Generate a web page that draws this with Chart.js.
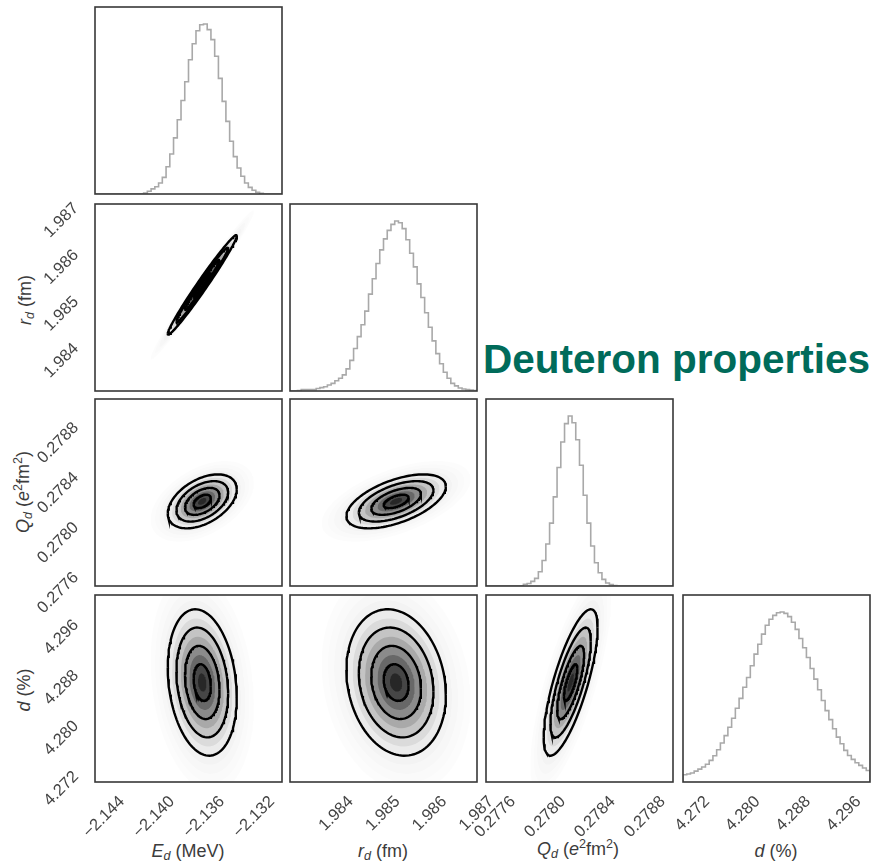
<!DOCTYPE html>
<html>
<head>
<meta charset="utf-8">
<script src="https://cdn.jsdelivr.net/npm/chart.js@4.4.0/dist/chart.umd.min.js"></script>
<style>
  body { margin: 0; background: #fff; }
  #corner { position: relative; width: 874px; height: 864px; overflow: hidden; font-family: 'Liberation Sans', Arial, sans-serif; }
  #corner canvas { position: absolute; }
  .lab { position: absolute; font-size: 18px; color: #3c3c3c; white-space: nowrap; transform: translate(-50%, -50%); }
  .lab.vert { transform: translate(-50%, -50%) rotate(-90deg); }
  .lab sub { font-size: 70%; vertical-align: -0.25em; line-height: 0; }
  .lab sup { font-size: 70%; vertical-align: 0.55em; line-height: 0; }
  #title { position: absolute; left: 483px; top: 339px; font-weight: bold; font-size: 40.5px; line-height: 1; color: #006b5a; white-space: nowrap; }
</style>
</head>
<body>
<div id="corner">
  <div id="title">Deuteron properties</div>
  <div class="lab" style="left:188px;top:851px"><i>E</i><sub><i>d</i></sub> (MeV)</div>
  <div class="lab" style="left:383px;top:851px"><i>r</i><sub><i>d</i></sub> (fm)</div>
  <div class="lab" style="left:578px;top:849px"><i>Q</i><sub><i>d</i></sub> (<i>e</i><sup>2</sup>fm<sup>2</sup>)</div>
  <div class="lab" style="left:776px;top:851px"><i>d</i> (%)</div>
  <div class="lab vert" style="left:25px;top:300px"><i>r</i><sub><i>d</i></sub> (fm)</div>
  <div class="lab vert" style="left:23px;top:492px"><i>Q</i><sub><i>d</i></sub> (<i>e</i><sup>2</sup>fm<sup>2</sup>)</div>
  <div class="lab vert" style="left:24px;top:690px"><i>d</i> (%)</div>
</div>
<script>
// parameters: binding energy, radius, quadrupole moment, D-state probability
const varMin = [-2.14488, 1.98304, 0.277512, 4.27073];
const varMax = [-2.12992, 1.98704, 0.279010, 4.30036];

const eTicks = [-2.144, -2.140, -2.136, -2.132];
const rTicks = [1.984, 1.985, 1.986, 1.987];
const qTicks = [0.2776, 0.2780, 0.2784, 0.2788];
const dTicks = [4.272, 4.280, 4.288, 4.296];
const tickDigits = [3, 3, 4, 3];

// marginal histograms, 50 bins over each axis range (peak = 100)
const eHist = [0, 0, 0, 0, 0, 0, 0, 0, 0, 0, 0, 0, 0, 0.6, 1.6, 3, 4.3, 6.5, 9.8, 16,
  23.5, 33, 43.7, 55, 66, 79, 88.4, 96, 99.6, 100, 96.7, 90.8, 81, 68, 54.5, 42.7, 31, 22, 15.3, 10.4,
  6.5, 3.9, 2.2, 1, 0.4, 0, 0, 0, 0, 0];
const rHist = [0, 0, 0.2, 0.8, 0.8, 0.8, 0.8, 1.5, 2, 2.5, 3.5, 4.5, 6, 7.5, 9.5, 13, 18, 25, 32, 39,
  47, 57, 66, 75, 83, 89.5, 94.5, 98, 100, 99, 95.5, 89, 81, 73, 63, 55, 46, 37.5, 29.5, 22,
  16, 11, 7.5, 4.5, 3, 1.8, 1.2, 0.8, 0.5, 0.2];
const qHist = [0, 0, 0, 0, 0, 0, 0, 0, 0, 0, 1, 1.5, 2.7, 4.5, 8.4, 15, 24.7, 37, 52.4, 69.7,
  84.7, 95.5, 100, 96, 86, 71, 53.4, 37, 23.5, 13.7, 7.8, 3.9, 1.8, 0.8, 0.3, 0, 0, 0, 0, 0,
  0, 0, 0, 0, 0, 0, 0, 0, 0, 0];
const dHist = [4.3, 4.7, 5.3, 6.4, 7.6, 8.8, 10.4, 12.7, 15.4, 19, 22.9, 27.3, 32.2, 37.5, 43.4, 49.2, 55.7, 61.5, 68.4, 75.2,
  81, 87, 92.2, 95.7, 98, 99.6, 100, 99.2, 97.3, 94, 89.8, 84.4, 79, 73.2, 66.8, 60.5, 54.3, 47.9, 42, 36.7,
  31.3, 26.4, 22.5, 18.6, 15.6, 13.3, 11.3, 9.8, 8.2, 6.8];

// joint posterior summary used for the 2D contours
const means = [-2.1363, 1.98531, 0.27819, 4.2865];
const sigmas = [0.00138, 0.000532, 0.000108, 0.0058];
// [row var, column var, correlation]
const correlations = [[1, 0, 0.985], [2, 0, 0.45], [2, 1, 0.55], [3, 0, -0.2], [3, 1, -0.17], [3, 2, 0.75]];

const tickVals = [eTicks, rTicks, qTicks, dTicks];
const hists = [eHist, rHist, qHist, dHist];

const FONT = "'Liberation Sans', Arial, sans-serif";
const colX = [95, 290, 486, 683];
const rowY = [7, 204, 399, 595];
const SIZE = 187;
const M_LEFT = 80, M_RIGHT = 40, M_TOP = 4, M_BOTTOM = 80, AXIS = 60;

// sigma radius and opacity of each shading band (inner bands stack on outer ones)
const SHADE = [[3.0, 0.01], [2.75, 0.0101], [2.5, 0.0153], [2.25, 0.0207], [2.0, 0.037], [1.75, 0.066],
  [1.5, 0.1], [1.25, 0.14], [1.0, 0.19], [0.75, 0.25], [0.5, 0.35], [0.25, 0.48]];
const CONTOURS = [0.5, 1, 1.5, 2];

const root = document.getElementById('corner');

function fmt(v, digits) {
  return v.toFixed(digits).replace('-', '\u2212');
}

const framePlugin = {
  id: 'frame',
  afterDraw(chart) {
    const {ctx, chartArea: a} = chart;
    ctx.save();
    ctx.strokeStyle = '#383838';
    ctx.lineWidth = 1.6;
    ctx.strokeRect(a.left, a.top, a.right - a.left, a.bottom - a.top);
    ctx.restore();
  }
};

function axis(v, show, pos) {
  const bottom = pos === 'bottom';
  return {
    type: 'linear', position: pos, display: show,
    min: varMin[v], max: varMax[v],
    grid: {display: false, drawTicks: false},
    border: {display: false},
    afterBuildTicks: s => { s.ticks = tickVals[v].map(t => ({value: t})); },
    afterFit: s => {
      if (!show) return;
      if (bottom) { s.height = AXIS; s.paddingLeft = 0; s.paddingRight = 0; }
      else { s.width = AXIS; s.paddingTop = 0; s.paddingBottom = 0; }
    },
    ticks: {
      autoSkip: false, minRotation: 45, maxRotation: 45,
      color: '#444', font: {family: FONT, size: 16.5},
      padding: bottom ? 10 : 19, labelOffset: bottom ? 16 : 0,
      callback: val => fmt(val, tickDigits[v])
    }
  };
}

function hiddenY(max) {
  return {type: 'linear', display: false, min: 0, max: max};
}

function histData(v) {
  const counts = hists[v];
  const w = (varMax[v] - varMin[v]) / counts.length;
  const pts = [{x: varMin[v], y: 0}];
  counts.forEach((c, n) => {
    pts.push({x: varMin[v] + n * w, y: c});
    pts.push({x: varMin[v] + (n + 1) * w, y: c});
  });
  pts.push({x: varMax[v], y: 0});
  return pts;
}

// upper and lower halves of the k-sigma ellipse, both ordered by x
function ellipseHalves(xv, yv, rho, k) {
  const upper = [], lower = [];
  const n = 60;
  for (let i = 0; i <= n; i++) {
    const t = Math.PI * (1 - i / n);
    const c = Math.cos(t), s = Math.sin(t);
    const x = means[xv] + k * sigmas[xv] * c;
    const mid = means[yv] + k * sigmas[yv] * rho * c;
    const half = k * sigmas[yv] * Math.sqrt(1 - rho * rho) * s;
    upper.push({x: x, y: mid + half});
    lower.push({x: x, y: mid - half});
  }
  return [upper, lower];
}

function panel(row, col, datasets, xAxis, yAxis) {
  const cv = document.createElement('canvas');
  const w = M_LEFT + SIZE + M_RIGHT, h = M_TOP + SIZE + M_BOTTOM;
  cv.width = w; cv.height = h;
  cv.style.width = w + 'px'; cv.style.height = h + 'px';
  cv.style.left = (colX[col] - M_LEFT) + 'px';
  cv.style.top = (rowY[row] - M_TOP) + 'px';
  root.appendChild(cv);
  new Chart(cv, {
    type: 'line',
    data: {datasets: datasets},
    options: {
      responsive: false, animation: false, devicePixelRatio: 1, events: [],
      layout: {padding: {
        left: yAxis.display ? M_LEFT - AXIS : M_LEFT,
        right: M_RIGHT, top: M_TOP,
        bottom: xAxis.display ? M_BOTTOM - AXIS : M_BOTTOM
      }},
      elements: {point: {radius: 0}, line: {tension: 0}},
      plugins: {legend: {display: false}, tooltip: {enabled: false}, filler: {drawTime: 'beforeDatasetsDraw'}},
      scales: {x: xAxis, y: yAxis}
    },
    plugins: [framePlugin]
  });
}

// diagonal: marginal histograms
for (let v = 0; v < 4; v++) {
  panel(v, v, [{
    data: histData(v), borderColor: '#a9a9a9', borderWidth: 1.6, fill: false
  }], axis(v, v === 3, 'bottom'), hiddenY(110));
}

// lower triangle: shaded density with contour lines
correlations.forEach(([yv, xv, rho]) => {
  const sets = [];
  SHADE.forEach(([k, alpha]) => {
    const [upper, lower] = ellipseHalves(xv, yv, rho, k);
    const line = CONTOURS.includes(k);
    const stroke = line ? '#000' : 'rgba(0,0,0,0)';
    sets.push({data: upper, borderColor: stroke, borderWidth: line ? 2.4 : 1, fill: false});
    sets.push({data: lower, borderColor: stroke, borderWidth: line ? 2.4 : 1,
      fill: '-1', backgroundColor: 'rgba(0,0,0,' + alpha + ')'});
  });
  panel(yv, xv, sets, axis(xv, yv === 3, 'bottom'), axis(yv, xv === 0, 'left'));
});
</script>
</body>
</html>
